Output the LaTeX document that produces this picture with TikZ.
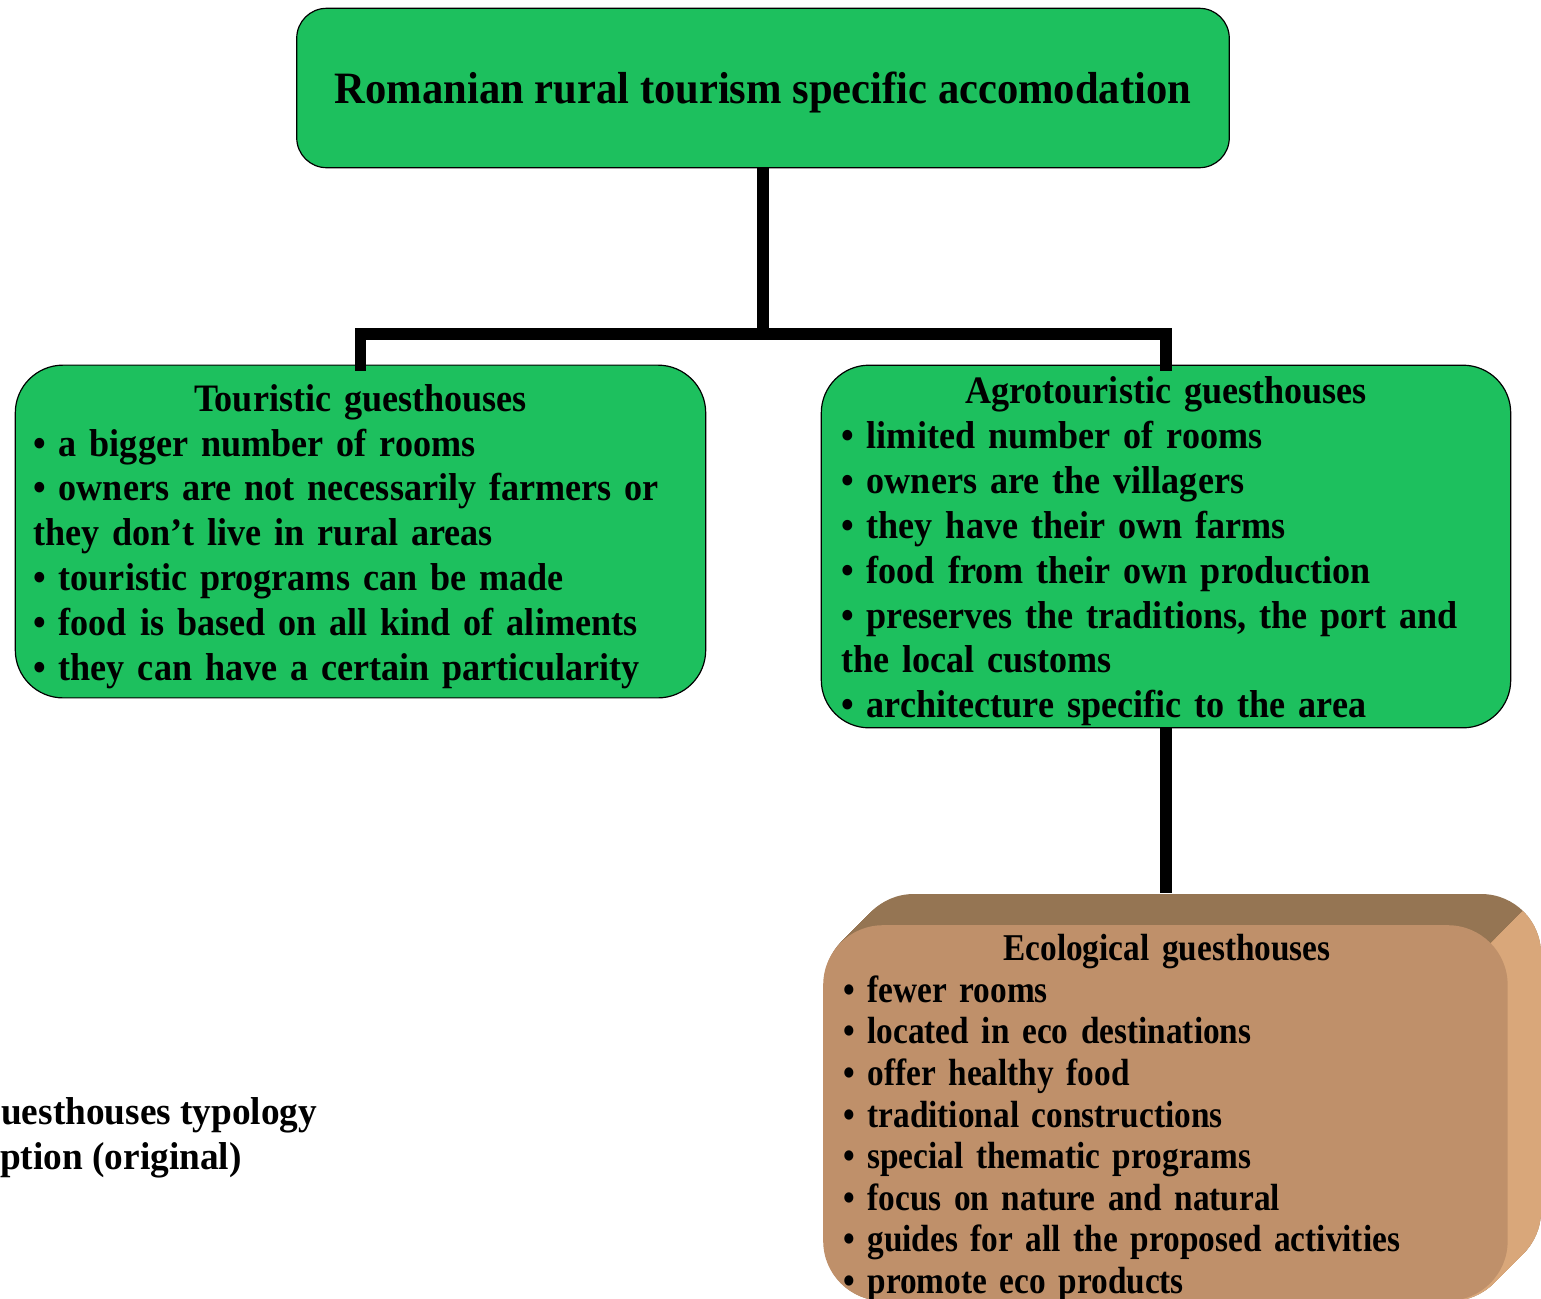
\documentclass[tikz,border=0pt]{standalone}
\usepackage{fontspec}
\setmainfont{Liberation Serif}
\newfontfamily\titlefont{Liberation Serif}[FakeStretch=0.95]
\newfontfamily\boxfont{Liberation Serif}[FakeStretch=0.93]
\newfontfamily\ecofont{Liberation Serif}[FakeStretch=0.88]
\newfontfamily\capfont{Liberation Serif}[FakeStretch=0.96]
\usepackage{tikz}
\usetikzlibrary{calc}
\usetikzlibrary{positioning}
\definecolor{boxgreen}{HTML}{1DC05E}
\definecolor{ecofront}{HTML}{BF906A}
\definecolor{ecotop}{HTML}{957553}
\definecolor{ecoside}{HTML}{D9A77A}
\tikzstyle{greenbox} = [rectangle, rounded corners=48, draw=black, line width=1.2, fill=boxgreen, inner ysep=0, font=\boxfont\bfseries\fontsize{39}{45}\selectfont, align=left]
\tikzstyle{link} = [-, line width=12, draw=black]
\newcommand{\boxtitle}[1]{\hfill #1\hfill\null\\}
\newcommand{\boxend}{\par\kern-10bp}

\begin{document}
\begin{tikzpicture}[x=1bp, y=-1bp]
\useasboundingbox (0,0) rectangle (1541,1298);
\clip (0,0) rectangle (1541,1298);
% ecological box, extruded
\foreach \i in {31,30,...,1} {
  \fill [ecotop, rounded corners=60] (823+\i,925-\i) rectangle (1510+\i,1302-\i);
}
\begin{scope}
\clip (1440,996) -- (1550,883) -- (1560,883) -- (1560,1310) -- (1440,1310) -- cycle;
\foreach \i in {31,30,...,1} {
  \fill [ecoside, rounded corners=60] (823+\i,925-\i) rectangle (1510+\i,1302-\i);
}
\end{scope}
\node [rectangle, rounded corners=60, fill=ecofront, minimum width=687, minimum height=377, anchor=north west] (E) at (823,925) {};
\coordinate (Etop) at (1166,893);
\node [anchor=north, text width=650, align=left, font=\ecofont\bfseries\fontsize{38}{41.8}\selectfont, inner sep=0] (ET) at (1167,934) {\boxtitle{Ecological guesthouses}%
• fewer rooms\\
• located in eco destinations\\
• offer healthy food\\
• traditional constructions\\
• special thematic programs\\
• focus on nature and natural\\
• guides for all the proposed activities\\
• promote eco products};
% green boxes
\node [greenbox, rounded corners=30, minimum width=936, minimum height=160, align=center, text depth=0pt, font=\titlefont\bfseries\fontsize{45}{50}\selectfont] (R) at (763,88) {Romanian rural tourism specific accomodation};
\node [greenbox, minimum height=334, text width=657, inner xsep=18] (T) at (360.5,531.5) {\boxtitle{Touristic guesthouses}%
• a bigger number of rooms\\
• owners are not necessarily farmers or\\
they don’t live in rural areas\\
• touristic programs can be made\\
• food is based on all kind of aliments\\
• they can have a certain particularity\boxend};
\node [greenbox, minimum height=364, text width=652, inner xsep=20] (A) at (1166,546.5) {\boxtitle{Agrotouristic guesthouses}%
• limited number of rooms\\
• owners are the villagers\\
• they have their own farms\\
• food from their own production\\
• preserves the traditions, the port and\\
the local customs\\
• architecture specific to the area\boxend};
% connectors
\coordinate (J) at (763,334);
\draw [link] (R.south) -- (J);
\draw [link, line cap=rect] (T.north) |- (J) -| (A.north);
\draw [link] (A.south) -- (Etop);
% caption
\node [anchor=west, font=\capfont\bfseries\fontsize{39}{45}\selectfont, inner sep=0] (C1) at (-28,1115) {Guesthouses typology};
\node [anchor=west, font=\capfont\bfseries\fontsize{39}{45}\selectfont, inner sep=0] (C2) at (0,1160) {ption (original)};
\end{tikzpicture}
\end{document}
